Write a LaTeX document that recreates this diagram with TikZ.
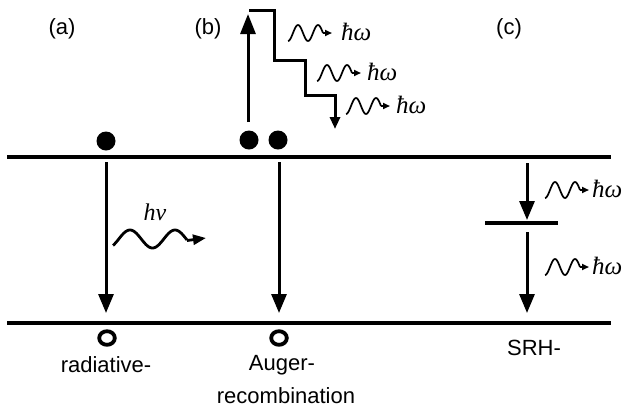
\documentclass[tikz,border=0pt]{standalone}
\usepackage{fontspec}
\setmainfont{Liberation Sans}
\newfontfamily\phfont{Liberation Serif}
\usetikzlibrary{arrows.meta}
\begin{document}
\begin{tikzpicture}[x=1pt,y=-1pt,
  band/.style={line width=3.5pt},
  bigarrow/.style={line width=3pt,-{Triangle[length=19pt,width=15pt]}},
  uparrow/.style={line width=3pt,-{Triangle[length=20pt,width=15pt]}},
  stair/.style={line width=3pt,-{Triangle[length=12pt,width=10pt]},line join=miter},
  electron/.style={circle,fill,inner sep=0pt,minimum size=19pt},
  holering/.style={line width=3.8pt},
  lbl/.style={font=\fontsize{22}{26}\selectfont,anchor=base,inner sep=0pt},
  energy/.style={font=\phfont\itshape\fontsize{25}{28}\selectfont,anchor=base west,inner sep=0pt},
  photon/.pic={
    \draw[line width=1.7pt] plot[domain=0:35,samples=50,smooth] (\x,{-8*sin(18*(\x-5))});
    \draw[line width=1.7pt,-{Triangle[length=7pt,width=6pt]}] (35,0) -- (44,0);
  }]
\useasboundingbox (0,0) rectangle (623,408);

% conduction and valence band edges
\coordinate (cbL) at (7,157);  \coordinate (cbR) at (611,157);
\coordinate (vbL) at (7,323);  \coordinate (vbR) at (611,323);
\draw[band] (cbL) -- (cbR);
\draw[band] (vbL) -- (vbR);

% panel labels
\node[lbl] (la) at (62,34) {(a)};
\node[lbl] (lb) at (208,34) {(b)};
\node[lbl] (lc) at (509,34) {(c)};

% (a) radiative recombination
\node[electron] (ea) at (106,141) {};
\coordinate (ra1) at (106,162);
\coordinate (ra2) at (106,313);
\draw[bigarrow] (ra1) -- (ra2);
\coordinate (ha) at (107,338);
\draw[holering] (ha) ellipse [x radius=7.8, y radius=6.8];
\node[font=\phfont\itshape\fontsize{24}{26}\selectfont,inner sep=0pt] (hnu) at (155,212) {hν};
\draw[line width=2.8pt] plot[domain=113:187,samples=80,smooth] (\x,{239-9*sin(8*(\x-118.75))});
\coordinate (hnuT) at (187,240.5);
\coordinate (hnuH) at (206,238);
\draw[line width=2.8pt,-{Triangle[length=13pt,width=10pt]}] (hnuT) -- (hnuH);
\node[lbl] (trad) at (106,372) {radiative-};

% (b) Auger recombination
\node[electron] (eb1) at (249,140) {};
\node[electron] (eb2) at (278,140) {};
\coordinate (up1) at (248,122);
\coordinate (up2) at (248,14);
\draw[uparrow] (up1) -- (up2);
\coordinate (s0) at (249,10);
\coordinate (s1) at (274,10);
\coordinate (s2) at (274,60);
\coordinate (s3) at (305,60);
\coordinate (s4) at (305,95);
\coordinate (s5) at (335,95);
\coordinate (s6) at (335,129);
\draw[stair] (s0) -- (s1) -- (s2) -- (s3) -- (s4) -- (s5) -- (s6);
\pic at (288,33) {photon};
\node[energy] (wb1) at (341,40) {ħω};
\pic at (317,73) {photon};
\node[energy] (wb2) at (367,80) {ħω};
\pic at (346,106) {photon};
\node[energy] (wb3) at (396,113) {ħω};
\coordinate (rb1) at (279,162);
\coordinate (rb2) at (279,313);
\draw[bigarrow] (rb1) -- (rb2);
\coordinate (hb) at (279,338);
\draw[holering] (hb) ellipse [x radius=7.8, y radius=6.8];
\node[lbl] (taug) at (282,370) {Auger-};
\node[lbl] (trec) at (286,403) {recombination};

% (c) Shockley-Read-Hall recombination via a trap level
\coordinate (rc1) at (527,163);
\coordinate (rc2) at (527,220);
\draw[bigarrow] (rc1) -- (rc2);
\coordinate (trL) at (485,223);
\coordinate (trR) at (558,223);
\draw[line width=4pt] (trL) -- (trR);
\coordinate (rc3) at (527,232);
\coordinate (rc4) at (527,313);
\draw[bigarrow] (rc3) -- (rc4);
\pic at (545,190) {photon};
\node[energy] (wc1) at (592,197) {ħω};
\pic at (545,267) {photon};
\node[energy] (wc2) at (592,274) {ħω};
\node[lbl] (tsrh) at (534,355) {SRH-};
\end{tikzpicture}
\end{document}
